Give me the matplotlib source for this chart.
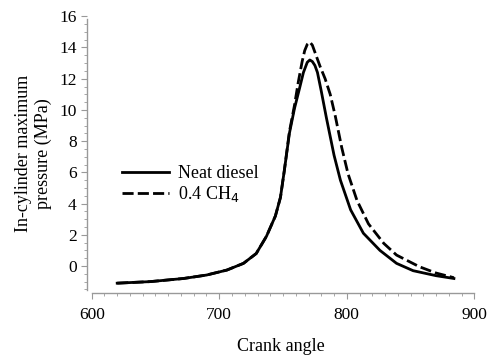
import matplotlib.pyplot as plt
import numpy as np
from matplotlib.ticker import MultipleLocator

plt.rcParams['font.family'] = ['Liberation Serif', 'DejaVu Serif']

# Neat diesel curve
diesel_x = [620, 646, 672, 690, 706, 719, 729, 737, 744, 748, 751, 755, 759,
            763, 766, 769, 771, 773, 775, 777, 780, 784, 790, 795, 803,
            813, 826, 839, 852, 870, 884]
diesel_y = [-1.1, -1.0, -0.8, -0.58, -0.26, 0.17, 0.8, 1.9, 3.2, 4.4, 6.1,
            8.5, 10.1, 11.4, 12.4, 13.05, 13.2, 13.1, 12.85, 12.4, 11.2,
            9.5, 7.1, 5.5, 3.6, 2.1, 1.0, 0.17, -0.3, -0.62, -0.8]

# 0.4 CH4 curve
ch4_x = [620, 646, 672, 690, 706, 719, 729, 737, 744, 748, 751, 755, 759,
         762, 765, 767, 769, 771, 773, 775, 779, 783, 787, 791, 796,
         801, 808, 817, 829, 839, 857, 870, 884]
ch4_y = [-1.1, -1.0, -0.8, -0.58, -0.26, 0.17, 0.8, 1.9, 3.2, 4.4, 6.1,
         8.6, 10.3, 11.8, 13.1, 13.8, 14.2, 14.35, 14.15, 13.7, 12.8,
         12.0, 11.0, 9.6, 7.6, 5.9, 4.2, 2.7, 1.45, 0.7, -0.05, -0.45, -0.75]

y_ticks = [0, 2, 4, 6, 8, 10, 12, 14, 16]
x_ticks = [600, 700, 800, 900]

fig = plt.figure(figsize=(4.87, 3.6), dpi=100)
ax = fig.add_axes([0.1786, 0.1861, 0.7954, 0.773])

ax.plot(diesel_x, diesel_y, color='black', lw=2.0, label='Neat diesel',
        solid_joinstyle='round')
ax.plot(ch4_x, ch4_y, color='black', lw=2.0, ls=(0, (4, 1.5)),
        label='0.4 CH$_4$', dash_joinstyle='round')

ax.set_xlim(596.3, 900)
ax.set_ylim(-1.73, 16.1)
ax.set_xticks(x_ticks)
ax.set_yticks(y_ticks)
ax.xaxis.set_minor_locator(MultipleLocator(10))
ax.yaxis.set_minor_locator(MultipleLocator(0.5))

for s in ['top', 'right']:
    ax.spines[s].set_visible(False)
ax.spines['left'].set_bounds(-1.54, 15.8)
ax.spines['bottom'].set_bounds(600, 900)
for s in ['left', 'bottom']:
    ax.spines[s].set_color('#999999')
    ax.spines[s].set_linewidth(1.0)

ax.tick_params(which='both', color='#999999', labelsize=12.5)
ax.tick_params(which='major', length=4)
ax.tick_params(which='minor', length=2.5)
ax.tick_params(axis='x', pad=6)

ax.set_xlabel('Crank angle', fontsize=13, labelpad=11)
ax.set_ylabel('In-cylinder maximum\npressure (MPa)', fontsize=13, labelpad=5,
              linespacing=1.2)

ax.legend(loc='upper left', bbox_to_anchor=(0.073, 0.485), frameon=False,
          fontsize=13, handlelength=2.6, handletextpad=0.5, labelspacing=0.12,
          borderaxespad=0)

plt.savefig('out.png', dpi=100)
